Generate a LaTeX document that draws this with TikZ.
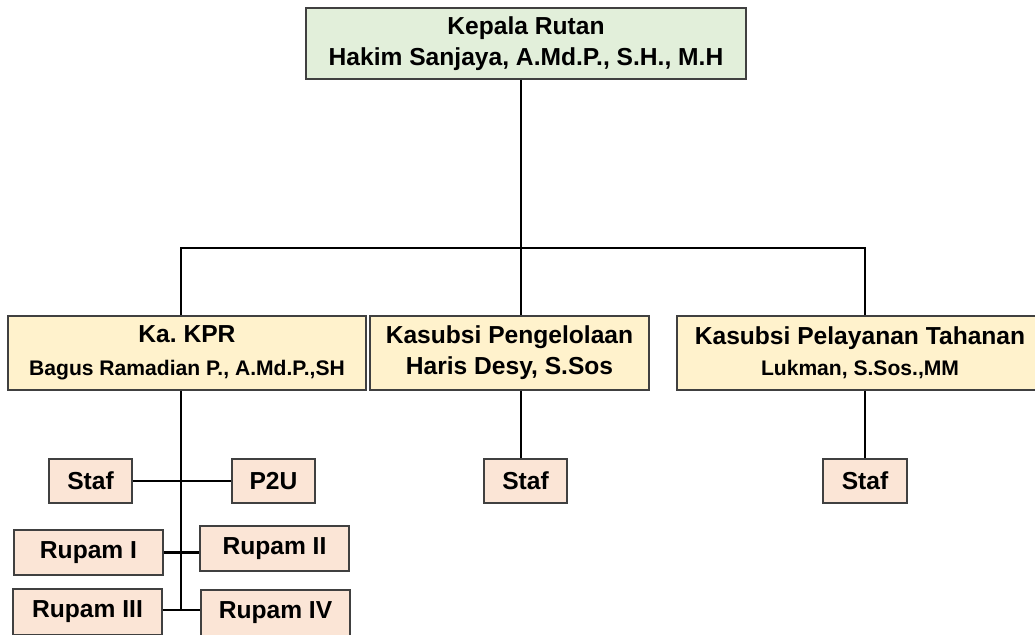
\documentclass[tikz,border=0pt]{standalone}
\usepackage{fontspec}
\setmainfont{Liberation Sans}
\definecolor{headgreen}{HTML}{E2EFDA}
\definecolor{unityellow}{HTML}{FFF2CC}
\definecolor{stafpeach}{HTML}{FBE5D6}
\definecolor{boxline}{HTML}{404040}
\begin{document}
\begin{tikzpicture}[x=0.02cm,y=-0.02cm,
  kotak/.style={draw=boxline, line width=0.8pt, align=center, inner sep=0pt, font=\bfseries\fontsize{14}{17.5}\selectfont},
  garis/.style={line width=1.3pt, black}]
  \useasboundingbox (0,0) rectangle (1035,635);
  \begin{scope}
  \clip (0,0) rectangle (1035,635);
  % pimpinan
  \node [kotak, fill=headgreen, minimum width=440*0.02cm, minimum height=71*0.02cm] (kepala) at (526,43.5)
    {Kepala Rutan\\Hakim Sanjaya, A.Md.P., S.H., M.H};
  % kepala seksi
  \node [kotak, fill=unityellow, minimum width=358*0.02cm, minimum height=74*0.02cm] (kpr) at (187,353)
    {Ka.\ KPR\\[1pt]{\fontsize{12}{14}\selectfont Bagus Ramadian P., A.Md.P.,SH}};
  \node [kotak, fill=unityellow, minimum width=279*0.02cm, minimum height=74*0.02cm] (kelola) at (509.5,353)
    {Kasubsi Pengelolaan\\Haris Desy, S.Sos};
  \node [kotak, fill=unityellow, minimum width=366*0.02cm, minimum height=74*0.02cm] (layan) at (860,353)
    {Kasubsi Pelayanan Tahanan\\{\fontsize{12}{14}\selectfont Lukman, S.Sos.,MM}};
  % staf
  \node [kotak, fill=stafpeach, minimum width=83*0.02cm, minimum height=44*0.02cm] (stafkpr) at (90.5,481) {Staf};
  \node [kotak, fill=stafpeach, minimum width=83*0.02cm, minimum height=44*0.02cm] (ppu) at (273.5,481) {P2U};
  \node [kotak, fill=stafpeach, minimum width=83*0.02cm, minimum height=44*0.02cm] (stafkelola) at (525.5,481) {Staf};
  \node [kotak, fill=stafpeach, minimum width=84*0.02cm, minimum height=44*0.02cm] (staflayan) at (865,481) {Staf};
  % rupam
  \node [kotak, fill=stafpeach, minimum width=149*0.02cm, minimum height=45*0.02cm] (rupamA) at (88.5,552.5) {Rupam I};
  \node [kotak, fill=stafpeach, minimum width=149*0.02cm, minimum height=45*0.02cm] (rupamB) at (274.5,548.5) {Rupam II};
  \node [kotak, fill=stafpeach, minimum width=149*0.02cm, minimum height=46*0.02cm] (rupamC) at (87.5,612) {Rupam III};
  \node [kotak, fill=stafpeach, minimum width=149*0.02cm, minimum height=46*0.02cm] (rupamD) at (275.5,613) {Rupam IV};
  \end{scope}
  % garis
  \coordinate (cabang) at (521,248);
  \coordinate (ujung) at (181,610);
  \draw [garis] (kepala.south -| cabang) -- (cabang);
  \draw [garis] (kpr.north -| ujung) |- (cabang) -| (layan.north -| staflayan);
  \draw [garis] (cabang) -- (kelola.north -| cabang);
  \draw [garis] (kelola.south -| cabang) -- (stafkelola.north -| cabang);
  \draw [garis] (layan.south -| staflayan) -- (staflayan.north);
  \draw [garis] (kpr.south -| ujung) -- (ujung);
  \draw [garis] (stafkpr.east) -- (ppu.west);
  \draw [garis] (rupamA.east) -- (rupamA.east -| rupamB.west);
  \draw [garis] (rupamC.east |- ujung) -- (rupamD.west |- ujung);
\end{tikzpicture}
\end{document}
